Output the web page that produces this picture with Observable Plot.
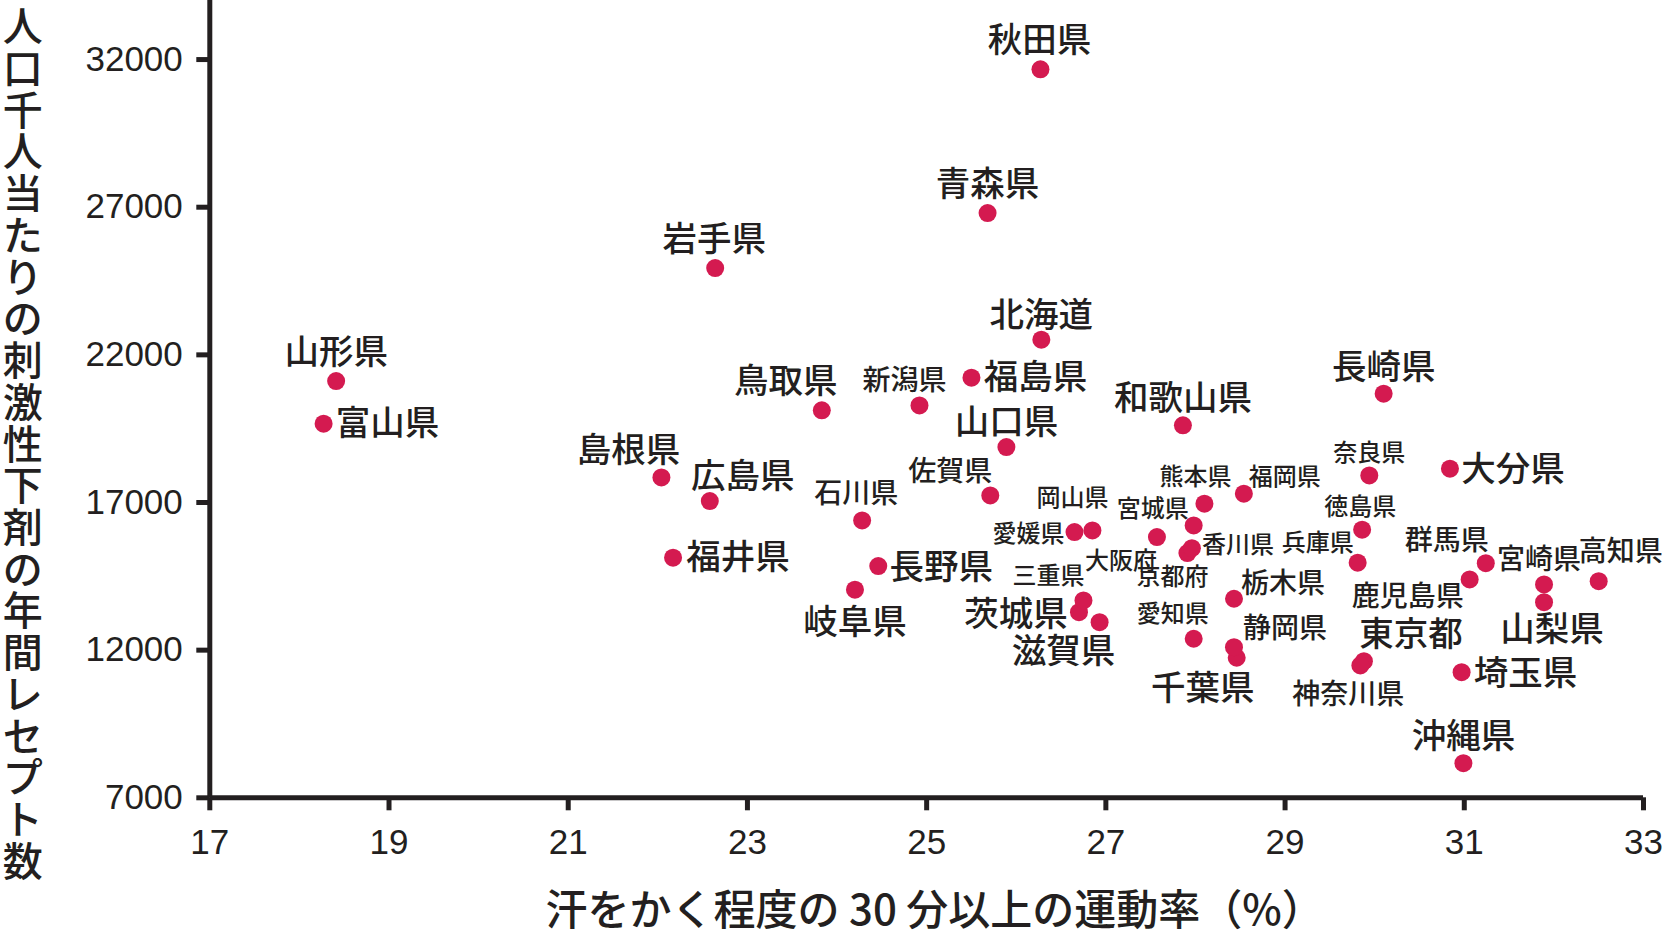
<!DOCTYPE html>
<html>
<head>
<meta charset="utf-8">
<script src="https://cdn.jsdelivr.net/npm/d3@7"></script>
<script src="https://cdn.jsdelivr.net/npm/@observablehq/plot@0.6"></script>
<style>
  html, body { margin: 0; padding: 0; background: #fff; }
  #chart svg { display: block; }
</style>
</head>
<body>
<div id="chart"></div>
<script>
// ---- data ----
const prefectures = [
  "北海道","青森県","岩手県","宮城県","秋田県","山形県","福島県",
  "茨城県","栃木県","群馬県","埼玉県","千葉県","東京都","神奈川県",
  "新潟県","富山県","石川県","福井県","山梨県","長野県","岐阜県",
  "静岡県","愛知県","三重県","滋賀県","京都府","大阪府","兵庫県",
  "奈良県","和歌山県","鳥取県","島根県","岡山県","広島県","山口県",
  "徳島県","香川県","愛媛県","高知県","福岡県","佐賀県","長崎県",
  "熊本県","大分県","宮崎県","鹿児島県","沖縄県"
];
// 汗をかく程度の30分以上の運動率（%）
const exerciseRate = [
  26.28, 25.68, 22.64, 27.98, 26.27, 18.41, 25.50,
  26.70, 28.43, 31.24, 30.97, 28.46, 29.88, 29.84,
  24.92, 18.27, 24.28, 22.17, 31.89, 24.46, 24.20,
  28.43, 27.98, 26.75, 26.93, 27.91, 27.57, 29.81,
  29.94, 27.86, 23.83, 22.04, 26.85, 22.58, 25.89,
  29.86, 27.96, 26.65, 32.50, 28.54, 25.71, 30.10,
  28.10, 30.84, 31.89, 31.06, 30.99
];
// 人口千人当たりの刺激性下剤の年間レセプト数
const receipts = [
  22515, 26803, 24940, 16224, 31671, 21112, 21228,
  13287, 13741, 14947, 11255, 11743, 11627, 11482,
  20289, 19669, 16394, 15130, 13626, 14846, 14046,
  12102, 12386, 13684, 12949, 15286, 15828, 14961,
  17918, 19612, 20120, 17850, 16055, 17047, 18877,
  16079, 15455, 15997, 14337, 17298, 17240, 20686,
  16959, 18145, 14226, 14395, 8172
];
const xTicks = [17, 19, 21, 23, 25, 27, 29, 31, 33];
const yTicks = [7000, 12000, 17000, 22000, 27000, 32000];
const xTitle = "汗をかく程度の 30 分以上の運動率（%）";
const yTitle = "人口千人当たりの刺激性下剤の年間レセプト数";

// ---- label layout (style only): size class, offset of label centre from its dot (px) ----
const labelLayout = {
  "北海道":["L",0,-26], "青森県":["L",0,-30], "岩手県":["L",-1,-30], "宮城県":["S",-41,-18],
  "秋田県":["L",-1,-30], "山形県":["L",0,-30], "福島県":["L",64,-2], "茨城県":["L",-63,1],
  "栃木県":["M",49,-16], "群馬県":["M",-39,-24], "埼玉県":["L",64,0], "千葉県":["L",-34,29],
  "東京都":["L",47,-28], "神奈川県":["M",-12,28], "新潟県":["M",-15,-26], "富山県":["L",64,-2],
  "石川県":["M",-6,-28], "福井県":["L",65,-2], "山梨県":["L",8,26], "長野県":["L",63,0],
  "岐阜県":["L",0,31], "静岡県":["M",51,-20], "愛知県":["S",-21,-26], "三重県":["S",-35,-26],
  "滋賀県":["L",-36,28], "京都府":["S",-15,23], "大阪府":["S",-36,23], "兵庫県":["S",-40,-21],
  "奈良県":["S",0,-24], "和歌山県":["L",0,-28], "鳥取県":["L",-36,-30], "島根県":["L",-33,-29],
  "岡山県":["S",-20,-34], "広島県":["L",33,-26], "山口県":["L",0,-26], "徳島県":["S",-2,-24],
  "香川県":["S",46,-4], "愛媛県":["S",-46,1], "高知県":["M",22,-31], "福岡県":["S",41,-18],
  "佐賀県":["M",-40,-25], "長崎県":["L",0,-28], "熊本県":["S",-9,-28], "大分県":["L",63,-1],
  "宮崎県":["M",-5,-26], "鹿児島県":["M",-62,16], "沖縄県":["L",0,-28]
};
const fontSizes = {L: 34.5, M: 28, S: 24};

const ink = "#231f20";
const dotColor = "#d41a50";
const cjk = "'Noto Sans CJK JP', 'Noto Sans CJK SC', sans-serif";
const latin = "'Liberation Sans', Arial, sans-serif";

const data = prefectures.map((name, i) => ({name, x: exerciseRate[i], y: receipts[i]}));

const labelMarks = data.map(d => {
  const [size, dx, dy] = labelLayout[d.name];
  const fs = fontSizes[size];
  return Plot.text([d], {
    x: "x", y: "y", text: "name",
    dx, dy: dy + 0.06 * fs,
    fontSize: fs, fontFamily: cjk, fontWeight: 500, fill: ink,
    textAnchor: "middle", lineAnchor: "middle"
  });
});

const W = 1662, H = 933;
const chart = Plot.plot({
  width: W, height: H,
  marginLeft: 209.3, marginRight: 19, marginTop: 0, marginBottom: 135.7,
  style: {fontFamily: latin, background: "#fff", color: ink},
  x: {domain: [17, 33]},
  y: {domain: [7000, 34000]},
  marks: [
    Plot.axisX({ticks: xTicks, tickSize: 13, tickPadding: 18, strokeWidth: 5, fontSize: 35,
      fontFamily: latin, color: ink, tickFormat: d => String(d), label: null}),
    Plot.axisY({ticks: yTicks, tickSize: 13, tickPadding: 14, strokeWidth: 5, fontSize: 35,
      fontFamily: latin, color: ink, tickFormat: d => String(d), label: null}),
    Plot.ruleY([7000], {stroke: ink, strokeWidth: 5}),
    Plot.ruleX([17], {stroke: ink, strokeWidth: 5}),
    Plot.dot(data, {x: "x", y: "y", r: 9, fill: dotColor}),
    ...labelMarks,
    Plot.text([xTitle], {frameAnchor: "bottom", text: d => d, dx: 8, dy: 114, fontSize: 42,
      fontFamily: cjk, fontWeight: 500, fill: ink, lineAnchor: "middle"}),
    Plot.text([yTitle], {frameAnchor: "left", text: d => [...d].join("\n"), dx: -187, dy: 46,
      fontSize: 40, lineHeight: 1.043, fontFamily: cjk, fontWeight: 500, fill: ink,
      lineAnchor: "middle", textAnchor: "middle"})
  ]
});
document.getElementById("chart").appendChild(chart);
</script>
</body>
</html>
